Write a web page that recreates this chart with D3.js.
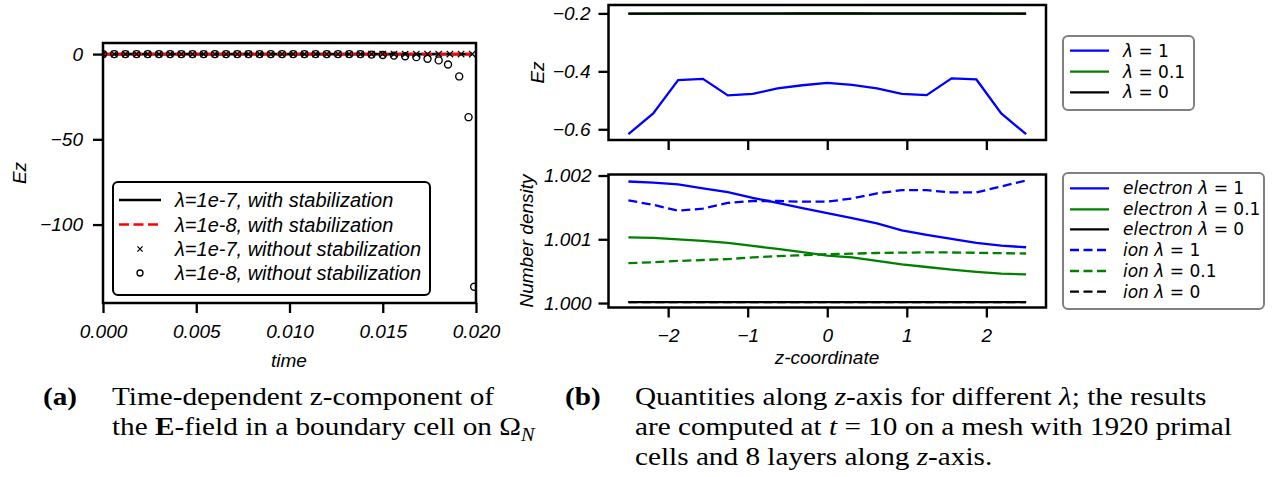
<!DOCTYPE html>
<html>
<head>
<meta charset="utf-8">
<script src="https://cdn.jsdelivr.net/npm/d3@7"></script>
<style>
  body { margin: 0; background: #fff; }
  svg { display: block; }
</style>
</head>
<body>
<div id="chart"></div>
<script>
// (a) Ez in a boundary cell over time
const timeStab = [0, 0.0006, 0.0012, 0.0018, 0.0024, 0.003, 0.0036, 0.0042, 0.0048, 0.0054,
  0.006, 0.0066, 0.0072, 0.0078, 0.0084, 0.009, 0.0096, 0.0102, 0.0108, 0.0114,
  0.012, 0.0126, 0.0132, 0.0138, 0.0144, 0.015, 0.0156, 0.0162, 0.0168, 0.0174,
  0.018, 0.0186, 0.0192, 0.0198];
const ezStab7 = [0, 0, 0, 0, 0, 0, 0, 0, 0, 0, 0, 0, 0, 0, 0, 0, 0, 0, 0, 0, 0, 0, 0, 0, 0, 0, 0, 0, 0, 0, 0, 0, 0, 0];
const ezStab8 = [0, 0, 0, 0, 0, 0, 0, 0, 0, 0, 0, 0, 0, 0, 0, 0, 0, 0, 0, 0, 0, 0, 0, 0, 0, 0, 0, 0, 0, 0, 0, 0, 0, 0];
const ezNoStab7 = [0, 0, 0, 0, 0, 0, 0, 0, 0, 0, 0, 0, 0, 0, 0, 0, 0, 0, 0, 0, 0, 0, 0, 0, 0, 0, 0, 0, 0, 0, 0, 0, 0, 0];
const timeNoStab8 = [0, 0.0006, 0.0012, 0.0018, 0.0024, 0.003, 0.0036, 0.0042, 0.0048, 0.0054,
  0.006, 0.0066, 0.0072, 0.0078, 0.0084, 0.009, 0.0096, 0.0102, 0.0108, 0.0114,
  0.012, 0.0126, 0.0132, 0.0138, 0.0144, 0.015, 0.0156, 0.0162, 0.0168, 0.0174,
  0.018, 0.0185, 0.0191, 0.0196, 0.0199];
const ezNoStab8 = [0, 0, 0, 0, 0, 0, 0, 0, 0, 0, 0, 0, 0, 0, 0, 0, 0, 0, 0, 0, 0, 0, 0, 0,
  -0.3, -0.5, -0.9, -1.3, -1.8, -2.7, -3.7, -6.1, -13.1, -37, -136.5];
const timeTicks = [0, 0.005, 0.01, 0.015, 0.02];
const ezTicks = [0, -50, -100];

// (b) quantities along z
const zCoord = [-2.5, -2.1875, -1.875, -1.5625, -1.25, -0.9375, -0.625, -0.3125, 0,
  0.3125, 0.625, 0.9375, 1.25, 1.5625, 1.875, 2.1875, 2.5];
const ezLam1 = [-0.617, -0.545, -0.43, -0.426, -0.483, -0.478, -0.459, -0.448, -0.44,
  -0.447, -0.459, -0.478, -0.482, -0.424, -0.428, -0.545, -0.617];
const ezLam01 = [-0.2012, -0.2008, -0.2004, -0.2001, -0.1999, -0.1997, -0.1996, -0.1995, -0.1995,
  -0.1995, -0.1996, -0.1997, -0.1999, -0.2001, -0.2004, -0.2008, -0.2012];
const ezLam0 = [-0.2005, -0.2005, -0.2005, -0.2005, -0.2005, -0.2005, -0.2005, -0.2005, -0.2005,
  -0.2005, -0.2005, -0.2005, -0.2005, -0.2005, -0.2005, -0.2005, -0.2005];
const elecLam1 = [1.001906, 1.00189, 1.00186, 1.0018, 1.00174, 1.00165, 1.00157, 1.00149, 1.00141,
  1.00133, 1.00125, 1.00114, 1.00107, 1.001005, 1.000945, 1.0009, 1.000875];
const elecLam01 = [1.001031, 1.001022, 1.001, 1.000975, 1.000945, 1.000895, 1.00085, 1.0008, 1.000745,
  1.000715, 1.00066, 1.000605, 1.000565, 1.000525, 1.00049, 1.00046, 1.000448];
const elecLam0 = [1.000015, 1.000015, 1.000015, 1.000015, 1.000015, 1.000015, 1.000015, 1.000015, 1.000015,
  1.000015, 1.000015, 1.000015, 1.000015, 1.000015, 1.000015, 1.000015, 1.000015];
const ionLam1 = [1.00161, 1.00154, 1.00145, 1.00148, 1.00157, 1.0016, 1.0016, 1.00159, 1.00159,
  1.00164, 1.00172, 1.00177, 1.00177, 1.001735, 1.001735, 1.00183, 1.00192];
const ionLam01 = [1.000625, 1.00064, 1.00066, 1.000675, 1.00069, 1.000715, 1.000735, 1.00075, 1.000766,
  1.000775, 1.000785, 1.00079, 1.000795, 1.000793, 1.000788, 1.000782, 1.000777];
const ionLam0 = [1.000015, 1.000015, 1.000015, 1.000015, 1.000015, 1.000015, 1.000015, 1.000015, 1.000015,
  1.000015, 1.000015, 1.000015, 1.000015, 1.000015, 1.000015, 1.000015, 1.000015];
const zTicks = [-2, -1, 0, 1, 2];
const ezTopTicks = [-0.2, -0.4, -0.6];
const densityTicks = [1.0, 1.001, 1.002];

const colorBlue = "#0000ff";
const colorGreen = "#008000";
const colorRed = "#ff0000";

const sans = "'Liberation Sans', Arial, sans-serif";
const serif = "'Liberation Serif', 'Times New Roman', serif";
const fontSize = 19;

const svg = d3
  .select("#chart")
  .append("svg")
  .attr("width", 1274)
  .attr("height", 477)
  .attr("font-family", sans)
  .style("background", "#fff");

function styleAxis(g) {
  g.select(".domain").remove();
  g.selectAll(".tick line").attr("stroke", "#000").attr("stroke-width", 2.3);
  g.selectAll(".tick text")
    .attr("font-size", fontSize)
    .attr("font-style", "italic")
    .attr("font-family", sans)
    .attr("fill", "#000");
}

function frame(x0, x1, y0, y1) {
  svg
    .append("rect")
    .attr("x", x0)
    .attr("y", y0)
    .attr("width", x1 - x0)
    .attr("height", y1 - y0)
    .attr("fill", "none")
    .attr("stroke", "#000")
    .attr("stroke-width", 2.5);
}

function clip(id, x0, x1, y0, y1) {
  svg
    .append("clipPath")
    .attr("id", id)
    .append("rect")
    .attr("x", x0)
    .attr("y", y0)
    .attr("width", x1 - x0)
    .attr("height", y1 - y0);
}

// ---------- panel (a) ----------
const xA = d3.scaleLinear([0, 0.02], [103, 476]);
const yA = d3.scaleLinear([-146, 6.5], [303, 43]);
clip("clipA", 103, 476, 43, 303);

svg
  .append("g")
  .attr("transform", "translate(0,303)")
  .call(d3.axisBottom(xA).tickValues(timeTicks).tickFormat(d3.format(".3f")).tickSize(10).tickPadding(12))
  .call(styleAxis);
svg
  .append("g")
  .attr("transform", "translate(103,0)")
  .call(d3.axisLeft(yA).tickValues(ezTicks).tickFormat(d3.format("d")).tickSize(10).tickPadding(10))
  .call(styleAxis);

const plotA = svg.append("g").attr("clip-path", "url(#clipA)");
const lineA = (ts) => d3.line().x((d, i) => xA(ts[i])).y((d) => yA(d));

plotA
  .append("path")
  .attr("d", lineA(timeStab)(ezStab7))
  .attr("fill", "none")
  .attr("stroke", "#000")
  .attr("stroke-width", 2.6);
plotA
  .append("path")
  .attr("d", lineA(timeStab)(ezStab8))
  .attr("fill", "none")
  .attr("stroke", colorRed)
  .attr("stroke-width", 2.6)
  .attr("stroke-dasharray", "10,4.5");

const cross = (sel, s) =>
  sel
    .attr("d", `M${-s},${-s}L${s},${s}M${-s},${s}L${s},${-s}`)
    .attr("stroke", "#000")
    .attr("stroke-width", 1.3)
    .attr("fill", "none");

plotA
  .append("g")
  .selectAll("path")
  .data(ezNoStab7)
  .join("path")
  .attr("transform", (d, i) => `translate(${xA(timeStab[i])},${yA(d)})`)
  .call(cross, 3.2);

plotA
  .append("g")
  .selectAll("circle")
  .data(ezNoStab8)
  .join("circle")
  .attr("cx", (d, i) => xA(timeNoStab8[i]))
  .attr("cy", (d) => yA(d))
  .attr("r", 3.5)
  .attr("fill", "none")
  .attr("stroke", "#000")
  .attr("stroke-width", 1.4);

// legend (a)
const legA = svg.append("g");
legA
  .append("rect")
  .attr("x", 113)
  .attr("y", 182)
  .attr("width", 317)
  .attr("height", 113)
  .attr("rx", 5)
  .attr("fill", "#fff")
  .attr("fill-opacity", 0.85)
  .attr("stroke", "#000")
  .attr("stroke-width", 2);

const legAItems = [
  { label: "λ=1e-7, with stabilization", kind: "solid", color: "#000" },
  { label: "λ=1e-8, with stabilization", kind: "dashed", color: colorRed },
  { label: "λ=1e-7, without stabilization", kind: "cross" },
  { label: "λ=1e-8, without stabilization", kind: "circle" },
];
const legAy = [200, 224.5, 249, 273];
legAItems.forEach((it, i) => {
  const y = legAy[i];
  if (it.kind === "solid" || it.kind === "dashed") {
    legA
      .append("line")
      .attr("x1", 119)
      .attr("x2", 161)
      .attr("y1", y)
      .attr("y2", y)
      .attr("stroke", it.color)
      .attr("stroke-width", 2.6)
      .attr("stroke-dasharray", it.kind === "dashed" ? "10,4.5" : null);
  } else if (it.kind === "cross") {
    legA.append("path").attr("transform", `translate(140,${y})`).call(cross, 2.6);
  } else {
    legA
      .append("circle")
      .attr("cx", 140)
      .attr("cy", y)
      .attr("r", 3)
      .attr("fill", "none")
      .attr("stroke", "#000")
      .attr("stroke-width", 1.3);
  }
  legA
    .append("text")
    .attr("x", 175)
    .attr("y", y)
    .attr("dy", "0.35em")
    .attr("font-size", 20)
    .attr("font-style", "italic")
    .text(it.label);
});

frame(103, 476, 43, 303);

svg
  .append("text")
  .attr("transform", "translate(26,173) rotate(-90)")
  .attr("text-anchor", "middle")
  .attr("font-size", fontSize)
  .attr("font-style", "italic")
  .text("Ez");
svg
  .append("text")
  .attr("x", 289)
  .attr("y", 367)
  .attr("text-anchor", "middle")
  .attr("font-size", fontSize)
  .attr("font-style", "italic")
  .text("time");

// ---------- panel (b) ----------
const xB = d3.scaleLinear([-2.75, 2.75], [608.5, 1046]);
const yTop = d3.scaleLinear([-0.637, -0.171], [140, 5]);
const yBot = d3.scaleLinear([0.99993, 1.002016], [307.5, 174.5]);
clip("clipTop", 608.5, 1046, 5, 140);
clip("clipBot", 608.5, 1046, 174.5, 307.5);

svg
  .append("g")
  .attr("transform", "translate(0,140)")
  .call(d3.axisBottom(xB).tickValues(zTicks).tickFormat("").tickSize(10))
  .call(styleAxis);
svg
  .append("g")
  .attr("transform", "translate(608.5,0)")
  .call(d3.axisLeft(yTop).tickValues(ezTopTicks).tickFormat(d3.format(".1f")).tickSize(10).tickPadding(8))
  .call(styleAxis);
svg
  .append("g")
  .attr("transform", "translate(0,307.5)")
  .call(d3.axisBottom(xB).tickValues(zTicks).tickFormat(d3.format("d")).tickSize(10).tickPadding(11))
  .call(styleAxis);
svg
  .append("g")
  .attr("transform", "translate(608.5,0)")
  .call(d3.axisLeft(yBot).tickValues(densityTicks).tickFormat(d3.format(".3f")).tickSize(10).tickPadding(7))
  .call(styleAxis);

const topSeries = [
  { values: ezLam1, color: colorBlue, dash: null },
  { values: ezLam01, color: colorGreen, dash: null },
  { values: ezLam0, color: "#000", dash: null },
];
const botSeries = [
  { values: elecLam1, color: colorBlue, dash: null },
  { values: elecLam01, color: colorGreen, dash: null },
  { values: elecLam0, color: "#000", dash: null },
  { values: ionLam1, color: colorBlue, dash: "9,4.5" },
  { values: ionLam01, color: colorGreen, dash: "9,4.5" },
  { values: ionLam0, color: "#000", dash: "9,4.5" },
];

const lineTop = d3.line().x((d, i) => xB(zCoord[i])).y((d) => yTop(d));
const lineBot = d3.line().x((d, i) => xB(zCoord[i])).y((d) => yBot(d));

svg
  .append("g")
  .attr("clip-path", "url(#clipTop)")
  .selectAll("path")
  .data(topSeries)
  .join("path")
  .attr("d", (d) => lineTop(d.values))
  .attr("fill", "none")
  .attr("stroke", (d) => d.color)
  .attr("stroke-width", 2.3);

svg
  .append("g")
  .attr("clip-path", "url(#clipBot)")
  .selectAll("path")
  .data(botSeries)
  .join("path")
  .attr("d", (d) => lineBot(d.values))
  .attr("fill", "none")
  .attr("stroke", (d) => d.color)
  .attr("stroke-width", 2.3)
  .attr("stroke-dasharray", (d) => d.dash);

frame(608.5, 1046, 5, 140);
frame(608.5, 1046, 174.5, 307.5);

svg
  .append("text")
  .attr("transform", "translate(544,72.5) rotate(-90)")
  .attr("text-anchor", "middle")
  .attr("font-size", fontSize)
  .attr("font-style", "italic")
  .text("Ez");
svg
  .append("text")
  .attr("transform", "translate(533,241) rotate(-90)")
  .attr("text-anchor", "middle")
  .attr("font-size", fontSize)
  .attr("font-style", "italic")
  .text("Number density");
svg
  .append("text")
  .attr("x", 827)
  .attr("y", 364)
  .attr("text-anchor", "middle")
  .attr("font-size", fontSize)
  .attr("font-style", "italic")
  .text("z-coordinate");

// legends (b)
const topLabels = [
  [["λ", true], [" = 1", false]],
  [["λ", true], [" = 0.1", false]],
  [["λ", true], [" = 0", false]],
];
const botLabels = [
  [["electron λ", true], [" = 1", false]],
  [["electron λ", true], [" = 0.1", false]],
  [["electron λ", true], [" = 0", false]],
  [["ion λ", true], [" = 1", false]],
  [["ion λ", true], [" = 0.1", false]],
  [["ion λ", true], [" = 0", false]],
];

function mplLegend(box, rows, series, labels) {
  const g = svg.append("g");
  g.append("rect")
    .attr("x", box[0])
    .attr("y", box[1])
    .attr("width", box[2])
    .attr("height", box[3])
    .attr("rx", 5)
    .attr("fill", "#fff")
    .attr("stroke", "#808080")
    .attr("stroke-width", 2);
  series.forEach((s, i) => {
    g.append("line")
      .attr("x1", 1070)
      .attr("x2", 1109)
      .attr("y1", rows[i])
      .attr("y2", rows[i])
      .attr("stroke", s.color)
      .attr("stroke-width", 2.3)
      .attr("stroke-dasharray", s.dash);
    const t = g
      .append("text")
      .attr("x", 1123)
      .attr("y", rows[i])
      .attr("dy", "0.36em")
      .attr("font-size", 17)
      .attr("font-family", "'DejaVu Sans', sans-serif");
    labels[i].forEach(([str, it]) => {
      t.append("tspan").attr("font-style", it ? "italic" : null).text(str);
    });
  });
}

mplLegend([1063, 36, 131, 74], [50.7, 71.7, 92.3], topSeries, topLabels);
mplLegend([1063, 173, 201, 136], [188.3, 209.3, 229.3, 250, 271, 291.7], botSeries, botLabels);

// ---------- captions ----------
// Times is narrower than the LaTeX font, so stretch each line a little
const stretch = 1.125;
function caption(x, y, parts, bold) {
  const t = svg
    .append("text")
    .attr("transform", `translate(${x},${y}) scale(${stretch},1)`)
    .attr("font-family", serif)
    .attr("font-size", 26);
  if (bold) t.attr("font-weight", "bold");
  parts.forEach((p) => {
    const s = t.append("tspan").text(p.t);
    if (p.b) s.attr("font-weight", "bold");
    if (p.i) s.attr("font-style", "italic");
    if (p.sub) s.attr("font-size", 18).attr("dy", 6);
  });
  return t;
}

caption(43, 405, [{ t: "(a)" }], true);
caption(565, 405, [{ t: "(b)" }], true);

caption(112, 405, [{ t: "Time-dependent z-component of" }]);
caption(112, 435, [
  { t: "the " }, { t: "E", b: true }, { t: "-field in a boundary cell on Ω" }, { t: "N", i: true, sub: true },
]);
caption(635, 405, [
  { t: "Quantities along " }, { t: "z", i: true }, { t: "-axis for different " }, { t: "λ", i: true }, { t: "; the results" },
]);
caption(635, 435, [
  { t: "are computed at " }, { t: "t", i: true }, { t: " = 10 on a mesh with 1920 primal" },
]);
caption(635, 465, [
  { t: "cells and 8 layers along " }, { t: "z", i: true }, { t: "-axis." },
]);
</script>
</body>
</html>
